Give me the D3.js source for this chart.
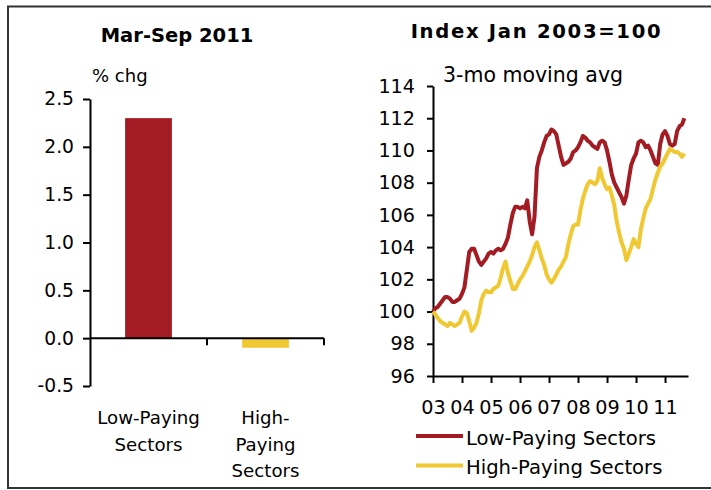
<!DOCTYPE html>
<html>
<head>
<meta charset="utf-8">
<script src="https://cdn.jsdelivr.net/npm/d3@7"></script>
<style>
  body { margin: 0; background: #fff; }
  svg { display: block; font-family: "DejaVu Sans", Verdana, sans-serif; }
  .axis path, .axis line { stroke: #000; stroke-width: 2; }
  .axis text { fill: #000; font-family: "DejaVu Sans", Verdana, sans-serif; }
  .left-axis text { font-size: 18.7px; }
  .right-axis text { font-size: 19.2px; }
</style>
</head>
<body>
<div id="chart"></div>
<script>
// left panel: % change Mar-Sep 2011
const categories = ["Low-Paying Sectors", "High-Paying Sectors"];
const categoryLines = [["Low-Paying", "Sectors"], ["High-", "Paying", "Sectors"]];
const pctChange = [2.3, -0.1];
const barTicks = [-0.5, 0, 0.5, 1.0, 1.5, 2.0, 2.5];

// right panel: index Jan 2003=100, monthly Jan 2003 - Sep 2011
const yearLabels = ["03", "04", "05", "06", "07", "08", "09", "10", "11"];
const indexTicks = [96, 98, 100, 102, 104, 106, 108, 110, 112, 114];
const lowPaying = [
  100.0, 100.2, 100.3, 100.5, 100.7, 100.9, 100.9, 100.8, 100.6, 100.6, 100.7, 100.8,
  101.1, 101.5, 102.6, 103.7, 103.9, 103.9, 103.5, 103.1, 102.9, 103.1, 103.3, 103.6,
  103.7, 103.6, 103.8, 103.9, 103.8, 103.9, 104.2, 104.6, 105.4, 106.1, 106.5, 106.5,
  106.4, 106.5, 106.4, 106.9, 105.6, 104.8, 105.9, 108.9, 109.6, 110.0, 110.5, 110.9,
  111.0, 111.3, 111.2, 111.0, 110.3, 109.6, 109.1, 109.2, 109.3, 109.5, 109.9, 110.0,
  110.2, 110.5, 110.9, 110.8, 110.6, 110.5, 110.3, 110.2, 110.1, 110.5, 110.6, 110.5,
  110.0, 109.3, 108.5, 108.0, 107.7, 107.4, 107.1, 106.7, 107.2, 108.2, 109.1, 109.5,
  109.8, 110.5, 110.6, 110.5, 110.2, 110.3, 110.0, 109.6, 109.2, 109.1, 110.4, 111.0,
  111.2, 110.9, 110.4, 110.3, 110.4, 111.2, 111.5, 111.6, 112.0
];
const highPaying = [
  100.0, 99.8, 99.6, 99.4, 99.3, 99.2, 99.1, 99.3, 99.2, 99.1, 99.2, 99.3,
  99.7, 100.0, 99.9, 99.4, 98.8, 99.0, 99.3, 99.9, 100.7, 101.1, 101.3, 101.2,
  101.2, 101.4, 101.5, 101.6, 102.1, 102.7, 103.1, 102.4, 101.9, 101.4, 101.4, 101.7,
  102.0, 102.2, 102.5, 102.8, 103.1, 103.5, 104.0, 104.3, 103.8, 103.3, 102.9, 102.3,
  102.0, 101.8, 102.0, 102.3, 102.6, 102.8, 103.1, 103.4, 104.2, 104.8, 105.3, 105.4,
  105.4, 106.3, 107.0, 107.5, 107.9, 108.1, 108.0, 107.9, 108.1, 108.9, 108.3, 107.9,
  107.6, 107.7, 107.2, 106.6, 105.6, 104.9, 104.3, 103.9, 103.2, 103.6, 104.0, 104.5,
  104.2, 104.0, 105.1, 105.8, 106.4, 106.7, 107.0, 107.6, 108.2, 108.6, 109.0, 109.2,
  109.5, 109.8, 110.1, 110.0, 109.9, 109.9, 109.8, 109.6, 109.8
];

const colors = ["#A31C24", "#F0C832"];

const svg = d3.select("#chart")
  .append("svg")
  .attr("width", 711)
  .attr("height", 490);

// outer frame (right edge falls outside the picture)
svg.append("rect")
  .attr("x", 8).attr("y", 6.5)
  .attr("width", 720).attr("height", 481.5)
  .attr("fill", "none")
  .attr("stroke", "#333")
  .attr("stroke-width", 2);

// ---------- left bar chart ----------
const xBand = d3.scaleBand().domain(categories).range([90, 324]).padding(0);
const yBar = d3.scaleLinear().domain([-0.5, 2.5]).range([386, 99]);

svg.append("text")
  .attr("x", 177).attr("y", 42)
  .attr("text-anchor", "middle")
  .style("font-size", "19.5px").style("font-weight", "bold")
  .text("Mar-Sep 2011");

svg.append("text")
  .attr("x", 92).attr("y", 82)
  .style("font-size", "18px")
  .text("% chg");

const barW = xBand.bandwidth() * 0.4;
svg.selectAll(".bar")
  .data(pctChange)
  .enter()
  .append("rect")
  .attr("class", "bar")
  .attr("x", (d, i) => xBand(categories[i]) + (xBand.bandwidth() - barW) / 2)
  .attr("width", barW)
  .attr("y", d => yBar(Math.max(0, d)))
  .attr("height", d => Math.abs(yBar(d) - yBar(0)))
  .attr("fill", (d, i) => colors[i]);

svg.append("g")
  .attr("class", "axis left-axis")
  .attr("transform", "translate(90,0)")
  .call(d3.axisLeft(yBar).tickValues(barTicks).tickSize(7).tickPadding(9).tickSizeOuter(0)
    .tickFormat(d => d.toFixed(1)));

// zero line with ticks at category boundaries
const zeroG = svg.append("g").attr("class", "axis");
zeroG.append("line")
  .attr("x1", xBand.range()[0]).attr("x2", xBand.range()[1])
  .attr("y1", yBar(0)).attr("y2", yBar(0));
zeroG.selectAll(".bt")
  .data(categories)
  .enter()
  .append("line")
  .attr("x1", d => xBand(d) + xBand.bandwidth())
  .attr("x2", d => xBand(d) + xBand.bandwidth())
  .attr("y1", yBar(0)).attr("y2", yBar(0) + 7);

categoryLines.forEach((lines, i) => {
  const t = svg.append("text")
    .attr("text-anchor", "middle")
    .style("font-size", "18.2px");
  lines.forEach((ln, j) => {
    t.append("tspan")
      .attr("x", xBand(categories[i]) + xBand.bandwidth() / 2)
      .attr("y", 424 + j * 26.5)
      .text(ln);
  });
});

// ---------- right line chart ----------
const xMonth = d3.scaleLinear().domain([0, 105.5]).range([433, 688]);
const yIdx = d3.scaleLinear().domain([96, 114]).range([376, 86]);

svg.append("text")
  .attr("x", 536.5).attr("y", 38)
  .attr("text-anchor", "middle")
  .style("font-size", "19.6px").style("font-weight", "bold")
  .style("letter-spacing", "1.7px")
  .text("Index Jan 2003=100");

svg.append("text")
  .attr("x", 443).attr("y", 82)
  .style("font-size", "20.5px")
  .text("3-mo moving avg");

svg.append("g")
  .attr("class", "axis right-axis")
  .attr("transform", "translate(433,0)")
  .call(d3.axisLeft(yIdx).tickValues(indexTicks).tickSize(6).tickPadding(12).tickSizeOuter(0));

svg.append("g")
  .attr("class", "axis right-axis")
  .attr("transform", "translate(0,376)")
  .call(d3.axisBottom(xMonth).tickValues(yearLabels.map((y, i) => i * 12))
    .tickFormat((d, i) => yearLabels[i]).tickSize(7).tickPadding(17).tickSizeOuter(0));

const line = d3.line()
  .x((d, i) => xMonth(i))
  .y(d => yIdx(d));

[lowPaying, highPaying].forEach((series, k) => {
  svg.append("path")
    .datum(series)
    .attr("fill", "none")
    .attr("stroke", colors[k])
    .attr("stroke-width", 4)
    .attr("stroke-linejoin", "round")
    .attr("d", line);
});

// legend
const legend = svg.selectAll(".legend")
  .data(categories)
  .enter()
  .append("g")
  .attr("transform", (d, i) => "translate(416," + (436 + i * 29.5) + ")");
legend.append("line")
  .attr("x1", 0).attr("x2", 47)
  .attr("stroke", (d, i) => colors[i])
  .attr("stroke-width", 4);
legend.append("text")
  .attr("x", 50).attr("y", 8.5)
  .style("font-size", "19.6px")
  .text(d => d);
</script>
</body>
</html>
